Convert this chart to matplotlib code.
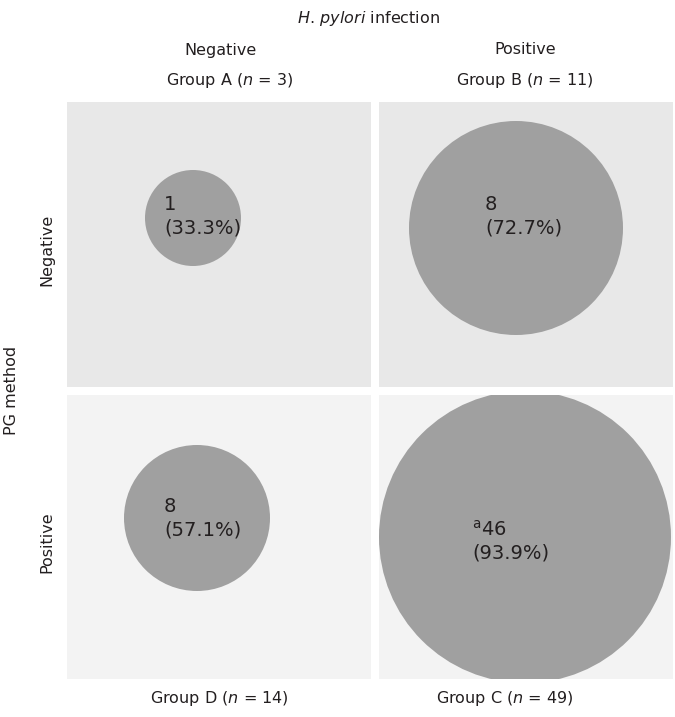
import matplotlib
matplotlib.use("Agg")
import matplotlib.pyplot as plt
from matplotlib.patches import Circle

# data
groups = ["Group A", "Group B", "Group D", "Group C"]
group_n = [3, 11, 14, 49]
positive_counts = [1, 8, 8, 46]
percents = [33.3, 72.7, 57.1, 93.9]
marks = ["", "", "", "a"]
col_labels = ["Negative", "Positive"]
row_labels = ["Negative", "Positive"]

# bubble radius in pixels, as drawn in the original
radius_px = [48, 107, 73, 146]

W, H = 675, 717
fig = plt.figure(figsize=(W / 100, H / 100), dpi=100)
plt.rcParams["font.family"] = "DejaVu Sans"

col_left = [67, 379]
col_width = [304, 294]
row_top = [102, 395]
row_height = [285, 284]
row_color = ["#e8e8e8", "#f3f3f3"]
circle_color = "#a0a0a0"
tc = "#231f20"

# (row, col), circle centre and text anchor inside each panel
cells = [(0, 0), (0, 1), (1, 0), (1, 1)]
centres = [(126, 116), (137, 126), (130, 123), (146, 142)]
text_at = [(97, 114), (106, 114), (97, 123), (93, 146)]

for i, (r, c) in enumerate(cells):
    x0, w = col_left[c], col_width[c]
    y0, h = row_top[r], row_height[r]
    ax = fig.add_axes([x0 / W, 1 - (y0 + h) / H, w / W, h / H])
    ax.set_xlim(0, w)
    ax.set_ylim(h, 0)
    ax.set_facecolor(row_color[r])
    for s in ax.spines.values():
        s.set_visible(False)
    ax.set_xticks([])
    ax.set_yticks([])
    cx, cy = centres[i]
    ax.add_patch(Circle((cx, cy), radius_px[i], color=circle_color, lw=0))
    first = str(positive_counts[i])
    if marks[i]:
        first = r"$^{\mathrm{%s}}$" % marks[i] + first
    ax.text(text_at[i][0], text_at[i][1], first + "\n(%.1f%%)" % percents[i],
            ha="left", va="center", fontsize=14, color=tc, linespacing=1.3)

fig.text(369 / W, 1 - 19 / H, r"$H.\,pylori$ infection", ha="center", va="center",
         fontsize=11.5, color=tc)

col_centre = [220, 525]
top_centre = [230, 525]
bottom_centre = [219, 505]
top_groups = [0, 1]
bottom_groups = [2, 3]
for c in range(2):
    fig.text(col_centre[c] / W, 1 - 50 / H, col_labels[c], ha="center", va="center",
             fontsize=11.5, color=tc)
    g = top_groups[c]
    fig.text(top_centre[c] / W, 1 - 80 / H, "%s ($n$ = %d)" % (groups[g], group_n[g]),
             ha="center", va="center", fontsize=11.5, color=tc)
    g = bottom_groups[c]
    fig.text(bottom_centre[c] / W, 1 - 699 / H, "%s ($n$ = %d)" % (groups[g], group_n[g]),
             ha="center", va="center", fontsize=11.5, color=tc)

for r in range(2):
    yc = 1 - (row_top[r] + row_height[r] / 2 + 5) / H
    fig.text(47 / W, yc, row_labels[r], rotation=90, ha="center", va="center",
             fontsize=11.5, color=tc)
fig.text(12 / W, 1 - 390 / H, "PG method", rotation=90, ha="center", va="center",
         fontsize=11.5, color=tc)

fig.savefig("out.png", dpi=100, facecolor="white")
